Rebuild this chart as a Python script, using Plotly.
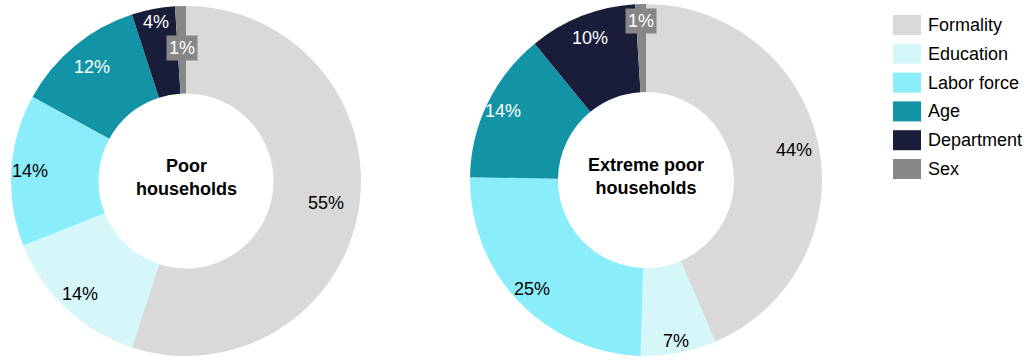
import math
import plotly.graph_objects as go

# Drivers of household poverty, share of explained gap (%)
categories = ["Formality", "Education", "Labor force", "Age", "Department", "Sex"]
poor_values = [55, 14, 14, 12, 4, 1]
extreme_values = [44, 7, 25, 14, 10, 1]
colors = ["#D9D9D9", "#D6F7FA", "#8AEDFA", "#1394A6", "#1A1D3A", "#878787"]
text_colors = ["#000000", "#000000", "#000000", "#FFFFFF", "#FFFFFF", "#FFFFFF"]
titles = ["Poor<br>households", "Extreme poor<br>households"]

W, H = 1029, 360
FONT = "Liberation Sans, Arial, sans-serif"
FS = 18

# pie centres, outer radii and per-slice label distances, in pixels
pies = [
    {"values": poor_values, "cx": 186, "cy": 181, "r": 175,
     "label_r": [142, 155, 156, 148, 162, 133]},
    {"values": extreme_values, "cx": 646, "cy": 180, "r": 176,
     "label_r": [151, 164, 158, 159, 153, 159]},
]

fig = go.Figure()
annotations = []
shapes = []

for p, title in zip(pies, titles):
    vals = p["values"]
    fig.add_trace(go.Pie(
        labels=categories,
        values=vals,
        textinfo="none",
        marker=dict(colors=colors, line=dict(width=0)),
        hole=0.5,
        sort=False,
        direction="clockwise",
        rotation=0,
        showlegend=False,
        hoverinfo="label+percent",
        domain=dict(
            x=[(p["cx"] - p["r"]) / W, (p["cx"] + p["r"]) / W],
            y=[(H - p["cy"] - p["r"]) / H, (H - p["cy"] + p["r"]) / H],
        ),
    ))
    # centre title inside the hole
    annotations.append(dict(
        x=p["cx"] / W, y=1 - (p["cy"] - 4) / H, xref="paper", yref="paper",
        xanchor="center", yanchor="middle", align="center",
        text=f"<b>{title}</b>", showarrow=False,
        font=dict(family=FONT, size=FS, color="#000000"),
    ))
    # value labels placed at each slice's mid-angle
    total = sum(vals)
    cum = 0
    for i, v in enumerate(vals):
        mid = (cum + v / 2) / total * 2 * math.pi
        cum += v
        rr = p["label_r"][i]
        lx = p["cx"] + rr * math.sin(mid)
        ly = p["cy"] - rr * math.cos(mid)
        boxed = categories[i] == "Sex"
        annotations.append(dict(
            x=lx / W, y=1 - ly / H, xref="paper", yref="paper",
            xanchor="center", yanchor="middle",
            text=f"{v}%", showarrow=False,
            font=dict(family=FONT, size=FS, color=text_colors[i]),
            bgcolor=colors[i] if boxed else "rgba(0,0,0,0)",
            borderpad=2 if boxed else 0,
        ))

# legend drawn as swatches with labels
lx0, ly0, step = 893, 15, 28.8
for i, (cat, col) in enumerate(zip(categories, colors)):
    y_top = ly0 + i * step
    shapes.append(dict(
        type="rect", xref="paper", yref="paper",
        x0=lx0 / W, x1=(lx0 + 28) / W,
        y0=1 - (y_top + 20) / H, y1=1 - y_top / H,
        fillcolor=col, line=dict(width=0),
    ))
    annotations.append(dict(
        x=(lx0 + 33) / W, y=1 - (y_top + 10) / H, xref="paper", yref="paper",
        xanchor="left", yanchor="middle", text=cat, showarrow=False,
        font=dict(family=FONT, size=FS, color="#000000"),
    ))

fig.update_layout(
    width=W, height=H,
    margin=dict(l=0, r=0, t=0, b=0),
    paper_bgcolor="#FFFFFF",
    plot_bgcolor="#FFFFFF",
    annotations=annotations,
    shapes=shapes,
    font=dict(family=FONT),
)

fig.write_html("out.html")
